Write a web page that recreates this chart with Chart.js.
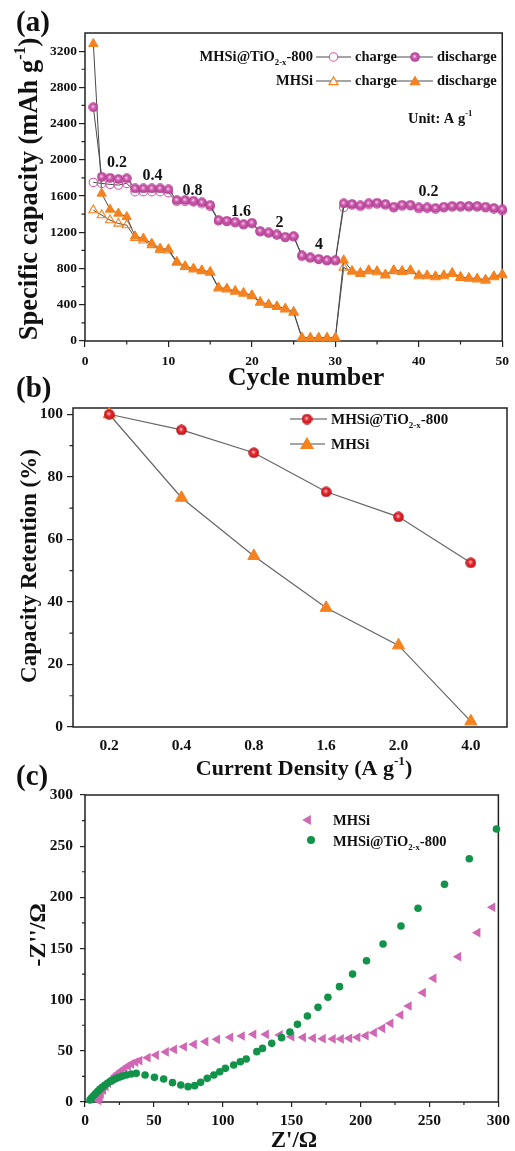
<!DOCTYPE html>
<html>
<head>
<meta charset="utf-8">
<script src="https://cdn.jsdelivr.net/npm/chart.js@4.4.0/dist/chart.umd.min.js"></script>
<style>
  html, body { margin: 0; padding: 0; background: #fff; }
  #wrap { position: relative; width: 515px; height: 1151px; overflow: hidden; }
  canvas { position: absolute; left: 0; top: 0; }
</style>
</head>
<body>
<div id="wrap">
  <canvas id="ca" width="515" height="1151"></canvas>
  <canvas id="cb" width="515" height="1151"></canvas>
  <canvas id="cc" width="515" height="1151"></canvas>
</div>
<script>
// ---------- (a) rate capability ----------
const cycles = [1,2,3,4,5,6,7,8,9,10,11,12,13,14,15,16,17,18,19,20,21,22,23,24,25,
                26,27,28,29,30,31,32,33,34,35,36,37,38,39,40,41,42,43,44,45,46,47,48,49,50];
const tioDischarge = [2581,1813,1802,1788,1795,1684,1684,1684,1684,1673,1555,1555,1548,1530,1500,
                      1334,1327,1316,1290,1305,1213,1198,1176,1150,1157,944,922,907,892,892,
                      1519,1512,1497,1519,1526,1512,1482,1504,1504,1475,1475,1467,1482,1490,1490,
                      1490,1490,1482,1467,1453];
const tioCharge = [1751,1740,1729,1721,1740,1648,1648,1648,1648,1637,1540,1540,1535,1515,1485,
                   1325,1318,1305,1282,1295,1205,1190,1168,1142,1150,935,915,900,885,885,
                   1475,1500,1485,1505,1512,1500,1470,1490,1492,1462,1463,1455,1470,1478,1478,
                   1478,1478,1470,1455,1440];
const mhsiDischarge = [3281,1629,1452,1408,1371,1157,1132,1076,1021,1014,874,826,800,781,763,
                       590,579,553,531,505,431,405,383,358,321,37,37,37,37,37,
                       892,774,752,782,771,734,782,774,782,726,726,715,726,752,708,
                       697,689,678,715,737];
const mhsiCharge = [1445,1390,1334,1297,1279,1140,1110,1060,1005,1000,865,818,792,773,755,
                    582,571,545,523,497,424,398,376,350,314,28,28,28,28,28,
                    811,765,742,772,760,725,772,764,772,716,716,705,716,742,698,
                    688,680,668,705,727];
const capTicks = [0,400,800,1200,1600,2000,2400,2800,3200];
const capMinor = [200,600,1000,1400,1800,2200,2600,3000];
const cycleTicks = [0,10,20,30,40,50];
const cycleMinor = [5,15,25,35,45];

// ---------- (b) capacity retention ----------
const densityLabels = ['0.2','0.4','0.8','1.6','2.0','4.0'];
const tioRetention = [100,95.0,87.7,75.2,67.2,52.5];
const mhsiRetention = [100,73.3,54.7,38.1,26.1,1.8];
const retTicks = [0,20,40,60,80,100];
const retMinor = [10,30,50,70,90];

// ---------- (c) Nyquist plot ----------
const mhsiRe = [9.8,10.8,11.6,13.2,15.0,16.8,18.6,20.4,22.2,24.0,26.4,28.8,31.2,33.6,36.6,39.6,
                45.6,51.6,58.8,64.7,71.9,79.1,87.5,95.9,105.5,113.9,122.3,131.4,141.5,149.9,
                158.3,165.5,172.7,179.9,185.8,191.9,197.8,203.8,209.8,215.8,221.8,229.0,235.0,
                245.3,253.0,271.0,284.9,295.7];
const mhsiIm = [1.5,4.5,8.0,11.7,15.2,18.3,21.0,23.2,25.8,28.1,30.6,33.0,35.2,37.2,39.0,40.5,
                43.3,45.9,48.9,51.4,54.0,56.4,59.0,61.2,63.2,64.5,66.1,66.1,65.5,63.8,
                63.2,62.5,61.9,61.6,61.6,62.2,63.2,64.8,67.7,72.0,76.9,85.0,93.8,
                106.8,120.9,142.0,165.5,190.3];
const tioRe = [3.6,4.5,6.0,7.5,9.1,10.7,12.5,14.3,16.3,18.3,20.4,22.5,24.7,27.2,30.0,33.5,37.2,
               43.6,50.4,57.1,63.5,69.5,74.8,79.6,83.9,88.7,93.5,97.8,101.9,107.9,112.7,117.0,
               124.7,128.8,135.5,142.7,148.7,154.2,161.4,169.1,176.3,184.7,194.2,204.3,216.3,
               229.3,241.7,260.9,278.9,298.6];
const tioIm = [2.0,3.5,5.9,8.0,10.1,12.3,14.4,16.4,18.3,20.0,21.6,22.9,24.1,25.3,26.4,27.3,28.0,
               26.4,24.1,22.5,18.9,16.6,15.0,16.0,19.2,23.1,26.4,29.6,32.9,36.2,39.4,42.0,
               49.2,52.4,57.3,62.9,68.4,75.9,84.0,92.5,102.3,112.7,125.0,138.0,154.4,
               172.0,189.3,212.7,237.7,266.8];
const zTicks = [0,50,100,150,200,250,300];
const zMinor = [25,75,125,175,225,275];

// ---------- styling ----------
const SERIF = '"Liberation Serif", "Times New Roman", serif';
const INK = '#222';
const LINE = '#4a4a4a';
const PINK = '#cf5cae';
const ORANGE = '#f5821f';
const GREEN = '#12934a';
const PINK_C = '#d066b4';

Chart.defaults.font.family = SERIF;
Chart.defaults.font.weight = 'bold';
Chart.defaults.color = '#111';

function sphere(d, light, base, dark) {
  const c = document.createElement('canvas');
  c.width = c.height = d;
  const g = c.getContext('2d');
  const r = d / 2;
  const grad = g.createRadialGradient(r * 0.9, r * 0.85, 0.3, r, r, r);
  grad.addColorStop(0, light);
  grad.addColorStop(0.35, base);
  grad.addColorStop(1, dark);
  g.fillStyle = grad;
  g.beginPath(); g.arc(r, r, r - 0.2, 0, Math.PI * 2); g.fill();
  return c;
}
const pinkBall = sphere(10, '#f6d2ec', '#d35fb2', '#a83a8c');
const redBall = sphere(11, '#ffd0d0', '#ec2c33', '#b0121a');

// text with sub (1) / superscript (2) parts
function txt(ctx, parts, x, y, size, align) {
  ctx.fillStyle = '#111';
  ctx.textBaseline = 'alphabetic';
  ctx.textAlign = 'left';
  const w = parts.map(p => { ctx.font = 'bold ' + (p[1] ? size * 0.6 : size) + 'px ' + SERIF; return ctx.measureText(p[0]).width; });
  const total = w.reduce((a, b) => a + b, 0);
  let cx = align === 'center' ? x - total / 2 : align === 'right' ? x - total : x;
  parts.forEach((p, i) => {
    ctx.font = 'bold ' + (p[1] ? size * 0.6 : size) + 'px ' + SERIF;
    const dy = p[1] === 1 ? size * 0.28 : p[1] === 2 ? -size * 0.45 : 0;
    ctx.fillText(p[0], cx, y + dy);
    cx += w[i];
  });
}
function rotTxt(ctx, parts, x, y, size) {
  ctx.save();
  ctx.translate(x, y);
  ctx.rotate(-Math.PI / 2);
  txt(ctx, parts, 0, 0, size, 'center');
  ctx.restore();
}
function tri(ctx, x, y, r, rot, fill, stroke) {
  ctx.beginPath();
  for (let k = 0; k < 3; k++) {
    const a = rot + k * 2 * Math.PI / 3;
    const px = x + Math.sin(a) * r, py = y - Math.cos(a) * r;
    if (k) ctx.lineTo(px, py); else ctx.moveTo(px, py);
  }
  ctx.closePath();
  if (fill) { ctx.fillStyle = fill; ctx.fill(); }
  if (stroke) { ctx.strokeStyle = stroke; ctx.lineWidth = 1.2; ctx.stroke(); }
}
function seg(ctx, x1, x2, y) {
  ctx.strokeStyle = LINE; ctx.lineWidth = 1;
  ctx.beginPath(); ctx.moveTo(x1, y); ctx.lineTo(x2, y); ctx.stroke();
}

// frame, minor ticks and free text for each panel
function deco(o) {
  return {
    id: 'deco',
    beforeDatasetsDraw(chart) {
      const { ctx, chartArea: a, scales } = chart;
      ctx.save();
      ctx.strokeStyle = INK;
      ctx.lineWidth = 1.5;
      ctx.strokeRect(a.left, a.top, a.right - a.left, a.bottom - a.top);
      ctx.lineWidth = 1.2;
      ctx.beginPath();
      (o.minorX || []).forEach(v => {
        const x = scales.x.getPixelForValue(v);
        ctx.moveTo(x, a.bottom); ctx.lineTo(x, a.bottom + o.len);
      });
      (o.minorY || []).forEach(v => {
        const y = scales.y.getPixelForValue(v);
        ctx.moveTo(a.left, y); ctx.lineTo(a.left - o.len, y);
      });
      ctx.stroke();
      ctx.restore();
    },
    afterDraw(chart) {
      chart.ctx.save();
      o.draw(chart.ctx, chart);
      chart.ctx.restore();
    }
  };
}

function linAxis(min, max, ticks, fit, tl, pad, fs) {
  return {
    type: 'linear', min: min, max: max,
    afterBuildTicks: s => { s.ticks = ticks.map(v => ({ value: v })); },
    afterFit: s => { if (s.isHorizontal()) s.height = fit; else s.width = fit; },
    grid: { drawOnChartArea: false, drawTicks: true, tickLength: tl, color: INK, lineWidth: 1.2 },
    border: { display: false },
    ticks: { padding: pad, autoSkip: false, maxRotation: 0, color: '#111',
             callback: v => String(v),
             font: { size: fs, weight: 'bold', family: SERIF } }
  };
}

const base = {
  responsive: false,
  animation: false,
  events: [],
  plugins: { legend: { display: false }, tooltip: { enabled: false } }
};

// ---------- chart (a) ----------
function cyc(vals, extra) {
  return Object.assign({
    data: cycles.map((c, i) => ({ x: c, y: vals[i] })),
    borderColor: LINE, borderWidth: 1, fill: false, tension: 0, clip: false
  }, extra);
}
new Chart(document.getElementById('ca'), {
  type: 'line',
  data: { datasets: [
    cyc(tioDischarge, { pointStyle: pinkBall }),
    cyc(tioCharge, { pointStyle: 'circle', pointRadius: 4.2, pointBorderWidth: 1.1,
                     pointBorderColor: PINK, pointBackgroundColor: 'rgba(255,255,255,0)' }),
    cyc(mhsiDischarge, { pointStyle: 'triangle', pointRadius: 5.4, pointBorderWidth: 1,
                         pointBorderColor: ORANGE, pointBackgroundColor: ORANGE }),
    cyc(mhsiCharge, { pointStyle: 'triangle', pointRadius: 5.2, pointBorderWidth: 1.1,
                      pointBorderColor: ORANGE, pointBackgroundColor: 'rgba(255,255,255,0)' })
  ]},
  options: Object.assign({}, base, {
    layout: { padding: { left: 0, top: 33, right: 11, bottom: 780 } },
    scales: {
      x: linAxis(0, 50, cycleTicks, 30, 6, 6, 13.5),
      y: linAxis(0, 3400, capTicks, 85, 6, 2, 13.5)
    }
  }),
  plugins: [deco({ minorX: cycleMinor, minorY: capMinor, len: 3.5, draw(ctx) {
    txt(ctx, [['(a)']], 16, 31, 29, 'left');
    rotTxt(ctx, [['Specific capacity (mAh g'], ['-1', 2], [')']], 37, 189, 26.5);
    txt(ctx, [['Cycle number']], 306, 385, 26, 'center');
    // legend
    txt(ctx, [['MHSi@TiO'], ['2-x', 1], ['-800']], 313, 61, 14.5, 'right');
    seg(ctx, 316, 351, 57);
    ctx.beginPath(); ctx.arc(333.5, 57, 4.2, 0, Math.PI * 2);
    ctx.fillStyle = '#fff'; ctx.fill(); ctx.strokeStyle = PINK; ctx.lineWidth = 1.1; ctx.stroke();
    txt(ctx, [['charge']], 355, 61, 14.5, 'left');
    seg(ctx, 397, 433, 57);
    ctx.drawImage(pinkBall, 410, 52);
    txt(ctx, [['discharge']], 437, 61, 14.5, 'left');
    txt(ctx, [['MHSi']], 313, 85, 14.5, 'right');
    seg(ctx, 316, 351, 81);
    tri(ctx, 333.5, 82, 5.2, 0, '#fff', ORANGE);
    txt(ctx, [['charge']], 355, 85, 14.5, 'left');
    seg(ctx, 397, 433, 81);
    tri(ctx, 415, 82, 5.4, 0, ORANGE, ORANGE);
    txt(ctx, [['discharge']], 437, 85, 14.5, 'left');
    txt(ctx, [['Unit: A g'], ['-1', 2]], 408, 123, 14.5, 'left');
    // rate annotations
    txt(ctx, [['0.2']], 117, 167, 16, 'center');
    txt(ctx, [['0.4']], 152.5, 180, 16, 'center');
    txt(ctx, [['0.8']], 192.5, 195, 16, 'center');
    txt(ctx, [['1.6']], 241, 216, 16, 'center');
    txt(ctx, [['2']], 279.5, 227, 16, 'center');
    txt(ctx, [['4']], 319, 249, 16, 'center');
    txt(ctx, [['0.2']], 428.5, 196, 16, 'center');
  } })]
});

// ---------- chart (b) ----------
new Chart(document.getElementById('cb'), {
  type: 'line',
  data: {
    labels: densityLabels,
    datasets: [
      { data: tioRetention, borderColor: '#666', borderWidth: 1.2, fill: false, tension: 0, clip: false,
        pointStyle: redBall },
      { data: mhsiRetention, borderColor: '#666', borderWidth: 1.2, fill: false, tension: 0, clip: false,
        pointStyle: 'triangle', pointRadius: 7, pointBorderWidth: 1,
        pointBackgroundColor: ORANGE, pointBorderColor: ORANGE }
    ]
  },
  options: Object.assign({}, base, {
    layout: { padding: { left: 0, top: 408, right: 8, bottom: 394 } },
    scales: {
      x: { type: 'category', offset: true,
           afterFit: s => { s.height = 30; },
           grid: { drawOnChartArea: false, drawTicks: false },
           border: { display: false },
           ticks: { padding: 10, autoSkip: false, maxRotation: 0, color: '#111',
                    font: { size: 15.5, weight: 'bold', family: SERIF } } },
      y: linAxis(0, 102, retTicks, 73, 6, 4, 15.5)
    }
  }),
  plugins: [deco({ minorY: retMinor, len: 3.5, draw(ctx) {
    txt(ctx, [['(b)']], 16, 397, 29, 'left');
    rotTxt(ctx, [['Capacity Retention (%)']], 36, 566, 23);
    txt(ctx, [['Current Density (A g'], ['-1', 2], [')']], 304, 775, 22, 'center');
    seg(ctx, 290, 327, 419);
    ctx.drawImage(redBall, 301.5, 413.5);
    txt(ctx, [['MHSi@TiO'], ['2-x', 1], ['-800']], 331, 424, 15, 'left');
    seg(ctx, 290, 325, 444);
    tri(ctx, 307, 445, 7, 0, ORANGE, ORANGE);
    txt(ctx, [['MHSi']], 331, 449, 15, 'left');
  } })]
});

// ---------- chart (c) ----------
new Chart(document.getElementById('cc'), {
  type: 'scatter',
  data: { datasets: [
    { data: tioRe.map((x, i) => ({ x: x, y: tioIm[i] })), clip: false,
      pointStyle: 'circle', pointRadius: 3.8, pointBorderWidth: 0,
      pointBackgroundColor: GREEN, pointBorderColor: GREEN },
    { data: mhsiRe.map((x, i) => ({ x: x, y: mhsiIm[i] })), clip: false,
      pointStyle: 'triangle', pointRotation: -90, pointRadius: 5.6, pointBorderWidth: 0,
      pointBackgroundColor: PINK_C, pointBorderColor: PINK_C }
  ]},
  options: Object.assign({}, base, {
    layout: { padding: { left: 0, top: 795, right: 13, bottom: 19 } },
    scales: {
      x: linAxis(0, 300, zTicks, 30, 5, 5, 15.5),
      y: linAxis(0, 300, zTicks, 85, 5, 7, 15.5)
    }
  }),
  plugins: [deco({ minorX: zMinor, minorY: zMinor, len: 3, draw(ctx) {
    txt(ctx, [['(c)']], 16, 785, 29, 'left');
    rotTxt(ctx, [["-Z''/\u03A9"]], 45, 935, 24);
    txt(ctx, [["Z'/\u03A9"]], 294, 1147, 23, 'center');
    tri(ctx, 308, 820, 5.8, -Math.PI / 2, PINK_C, null);
    txt(ctx, [['MHSi']], 333, 825, 14.5, 'left');
    ctx.beginPath(); ctx.arc(311, 840, 4, 0, Math.PI * 2); ctx.fillStyle = GREEN; ctx.fill();
    txt(ctx, [['MHSi@TiO'], ['2-x', 1], ['-800']], 333, 846, 14.5, 'left');
  } })]
});
</script>
</body>
</html>
